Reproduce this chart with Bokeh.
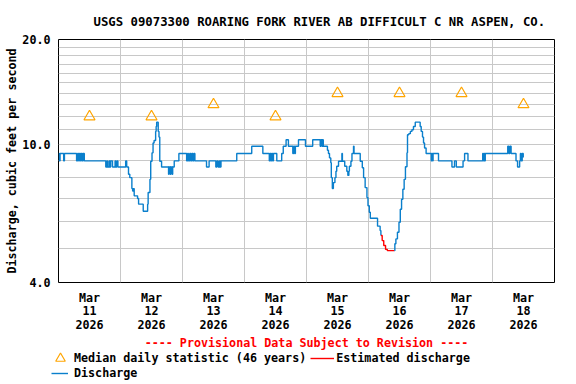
import math
from bokeh.plotting import figure
from bokeh.layouts import column
from bokeh.models import (FixedTicker, PrintfTickFormatter, Legend, LegendItem,
                          Range1d)
from bokeh.embed import file_html
from bokeh.resources import INLINE

FONT = "DejaVu Sans Mono"

TITLE = "USGS 09073300 ROARING FORK RIVER AB DIFFICULT C NR ASPEN, CO."
Y_LABEL = "Discharge, cubic feet per second"
X_NOTE = "---- Provisional Data Subject to Revision ----"

# x in hours since Mar 11 2026 00:00
day_centers_h = [12, 36, 60, 84, 108, 132, 156, 180]
day_labels = ["Mar\n11\n2026", "Mar\n12\n2026", "Mar\n13\n2026", "Mar\n14\n2026",
              "Mar\n15\n2026", "Mar\n16\n2026", "Mar\n17\n2026", "Mar\n18\n2026"]
day_bounds_h = [24, 48, 72, 96, 120, 144, 168]

y_ticks = [4, 10, 20]
y_grid = [5, 6, 7, 8, 9, 10, 11, 12, 13, 14, 15, 16, 17, 18, 19]

# Median daily statistic (46 years)
median_h = [12, 36, 60, 84, 108, 132, 156, 180]
median_cfs = [12, 12, 13, 12, 14, 14, 14, 13]

# Discharge (provisional), first part
q1_h = [0.0, 0.3, 0.6, 2.0, 2.3, 7.0, 7.4, 7.8, 8.1, 8.5, 8.8, 9.2, 9.5, 10.0,
        18.3, 18.7, 19.0, 19.6, 19.9, 20.2, 20.9, 21.9, 22.2, 22.6, 23.0, 26.0, 26.4,
        27.1, 27.6, 28.4, 28.7, 29.0, 29.3, 30.6, 31.0, 32.8, 34.5, 34.7, 35.4, 35.7,
        36.2, 36.6, 37.0, 37.6, 37.8, 38.0, 38.6, 38.9, 39.2, 39.9,
        42.6, 42.8, 43.3, 43.5, 44.0, 44.2, 44.8, 46.6,
        49.6, 50.0, 50.3, 50.8, 51.2, 51.6, 52.0, 52.4, 52.8, 57.3, 58.3,
        60.9, 61.3, 61.8, 62.3, 62.6, 62.9, 69.0, 74.8, 79.1,
        81.6, 81.9, 82.2, 82.5, 82.9, 83.2, 84.5, 86.4, 87.0, 88.1, 89.0,
        90.7, 91.0, 91.4, 91.7, 92.9, 95.6, 98.4, 101.3, 101.6, 102.0, 102.2, 102.5,
        104.1, 104.5, 104.9, 105.4, 105.6, 106.0, 106.4, 107.0, 107.4, 107.7, 108.4,
        109.7, 109.9, 110.8, 111.6, 112.0, 112.4, 112.6, 113.2, 113.6, 114.2, 114.4,
        116.8, 117.6, 118.1, 118.7, 119.4, 119.8, 120.3, 120.7, 123.5, 124.5, 124.8]
q1_cfs = [9.4, 8.95, 9.4, 8.95, 9.4, 8.95, 9.4, 8.95, 9.4, 8.95, 9.4, 8.95, 9.4, 8.95,
          8.6, 8.95, 8.6, 8.95, 8.6, 8.95, 8.6, 8.95, 8.6, 8.95, 8.6, 8.95, 8.6,
          8.19, 8.01, 7.45, 7.33, 7.45, 7.10, 6.98, 6.72, 6.41, 6.72, 7.26, 7.92, 8.93,
          9.44, 10.08, 10.25, 10.88, 11.24, 11.57, 10.88, 10.48, 8.93, 8.6,
          8.19, 8.6, 8.19, 8.6, 8.19, 8.6, 8.95, 9.4,
          8.95, 9.4, 8.95, 9.4, 8.95, 9.4, 8.95, 9.4, 8.95, 8.6, 8.95,
          8.6, 8.95, 8.6, 8.95, 8.6, 8.95, 9.4, 9.86, 9.4,
          8.95, 9.4, 8.95, 9.4, 8.95, 9.4, 8.95, 9.4, 9.86, 10.3, 9.86,
          9.4, 9.86, 9.4, 9.86, 10.3, 9.86, 10.3, 9.86, 10.3, 9.86, 10.3, 9.86,
          9.6, 9.4, 9.13, 8.84, 8.01, 7.45, 7.75, 8.01, 8.36, 8.64, 8.93,
          9.4, 8.93, 8.64, 8.36, 8.13, 8.36, 8.64, 8.93, 9.4, 9.86, 9.4,
          8.93, 8.55, 8.01, 7.50, 7.02, 6.65, 6.37, 6.12, 5.81, 5.64, 5.46]

# Estimated discharge
est_h = [124.8, 125.3, 125.9, 126.6, 127.3, 130.1]
est_cfs = [5.46, 5.28, 5.11, 4.98, 4.94, 4.94]

# Discharge (provisional), second part
q2_h = [130.1, 130.2, 130.6, 131.2, 131.8, 132.3, 132.8, 133.3, 133.8, 134.3, 134.9,
        135.1, 135.6, 136.2, 136.8, 137.4, 138.1, 140.0, 140.4, 140.9, 141.3, 141.7,
        142.3, 144.3, 144.5, 144.8, 145.0, 147.1, 152.3, 153.3, 154.0, 156.6, 157.2,
        158.5, 164.2, 164.5, 164.8, 165.0, 165.2, 173.9, 174.3, 174.7, 175.2, 177.1,
        177.7, 178.5, 178.8, 179.1, 179.5, 179.9]
q2_cfs = [4.94, 5.17, 5.34, 5.58, 5.96, 6.50, 6.94, 7.42, 7.92, 8.61, 9.44,
          10.64, 10.72, 10.88, 11.00, 11.24, 11.57, 11.24, 10.88, 10.48, 10.08, 9.75,
          9.4, 8.95, 9.4, 8.95, 9.4, 8.95, 8.6, 8.95, 8.6, 8.95, 9.4,
          8.95, 9.4, 8.95, 9.4, 8.95, 9.4, 9.86, 9.4, 9.86, 9.4, 8.95,
          8.6, 8.95, 9.4, 8.95, 9.4, 9.15]

BLUE = "#0a7fcc"
RED = "#ff0000"
ORANGE = "#ffa500"
GRID = "#c8c8c8"
TXT = "11.7px"
LW = 1.4

# ---------------- main chart ----------------
p = figure(width=576, height=352, x_range=Range1d(0, 192), y_range=Range1d(4, 20),
           y_axis_type="log", output_backend="svg", toolbar_location=None,
           min_border_left=58, min_border_right=22, min_border_top=39,
           min_border_bottom=68, background_fill_color="white",
           border_fill_color="white")
p.frame_align = False
p.outline_line_color = "black"
p.outline_line_width = 1

p.title.text = TITLE
p.title.text_font = FONT
p.title.text_font_size = "12.3px"
p.title.text_font_style = "bold"
p.title.text_color = "black"
p.title.align = "left"
p.title.offset = 35
p.title.standoff = 22

r_med = p.scatter(median_h, median_cfs, marker="triangle", size=11,
                  line_color=ORANGE, fill_color=None, line_width=1.2)
r_q1 = p.step(q1_h, q1_cfs, mode="after", line_color=BLUE, line_width=LW)
r_est = p.step(est_h, est_cfs, mode="after", line_color=RED, line_width=LW)
r_q2 = p.step(q2_h, q2_cfs, mode="after", line_color=BLUE, line_width=LW)

xa = p.xaxis[0]
xa.ticker = FixedTicker(ticks=day_centers_h)
xa.major_label_overrides = {h: lab for h, lab in zip(day_centers_h, day_labels)}
xa.major_tick_line_color = None
xa.minor_tick_line_color = None
xa.major_tick_out = 0
xa.major_tick_in = 0
xa.minor_tick_out = 0
xa.axis_line_color = None
xa.major_label_standoff = 8
xa.major_label_text_font = FONT
xa.major_label_text_font_size = TXT
xa.major_label_text_font_style = "bold"
xa.major_label_text_color = "black"
xa.major_label_text_line_height = 0.98
xa.axis_label = X_NOTE
xa.axis_label_text_font = FONT
xa.axis_label_text_font_size = TXT
xa.axis_label_text_font_style = "bold"
xa.axis_label_text_color = RED
xa.axis_label_standoff = 1

ya = p.yaxis[0]
ya.ticker = FixedTicker(ticks=y_ticks)
ya.formatter = PrintfTickFormatter(format="%.1f")
ya.major_tick_line_color = None
ya.minor_tick_line_color = None
ya.major_tick_out = 0
ya.major_tick_in = 0
ya.minor_tick_out = 0
ya.axis_line_color = None
ya.major_label_standoff = 8
ya.major_label_text_font = FONT
ya.major_label_text_font_size = TXT
ya.major_label_text_font_style = "bold"
ya.major_label_text_color = "black"
ya.axis_label = Y_LABEL
ya.axis_label_text_font = FONT
ya.axis_label_text_font_size = TXT
ya.axis_label_text_font_style = "bold"
ya.axis_label_text_color = "black"
ya.axis_label_standoff = 0

p.xgrid.ticker = FixedTicker(ticks=day_bounds_h)
p.ygrid.ticker = FixedTicker(ticks=y_grid)
for g in (p.xgrid[0], p.ygrid[0]):
    g.grid_line_color = GRID
    g.grid_line_width = 1
p.ygrid.minor_grid_line_color = None

# ---------------- legend strip ----------------
pl = figure(width=576, height=32, x_range=Range1d(0, 1), y_range=Range1d(0, 1),
            output_backend="svg", toolbar_location=None, min_border=0,
            min_border_left=0, min_border_right=0, min_border_top=0,
            min_border_bottom=0, x_axis_location=None, y_axis_location=None,
            background_fill_color="white", border_fill_color="white")
pl.frame_align = False
pl.outline_line_color = None
pl.grid.visible = False

# legend proxies share the chart's data (they fall outside this strip's ranges)
lg_med = pl.scatter("x", "y", source=r_med.data_source, marker="triangle", size=11,
                    line_color=ORANGE, fill_color=None, line_width=1.2)
lg_est = pl.line("x", "y", source=r_est.data_source, line_color=RED, line_width=LW)
lg_q = pl.line("x", "y", source=r_q1.data_source, line_color=BLUE, line_width=LW)


def mk_legend(items, loc, gw, gh, standoff, spacing=0, orientation="vertical"):
    return Legend(items=items, location=loc, orientation=orientation,
                  glyph_width=gw, glyph_height=gh, label_height=gh,
                  label_standoff=standoff, padding=0, margin=0, spacing=spacing,
                  border_line_color=None, background_fill_alpha=0,
                  label_text_font=FONT, label_text_font_size=TXT,
                  label_text_font_style="bold", label_text_color="black")


pl.add_layout(mk_legend([LegendItem(label="Median daily statistic (46 years)",
                                    renderers=[lg_med]),
                         LegendItem(label="Estimated discharge", renderers=[lg_est])],
                        (48, 14), 24, 24, 2, spacing=4, orientation="horizontal"))
pl.add_layout(mk_legend([LegendItem(label="Discharge", renderers=[lg_q])],
                        (51, 4), 17, 8, 6))

layout = column(p, pl, spacing=0)
open("out.html", "w").write(file_html(layout, INLINE))
